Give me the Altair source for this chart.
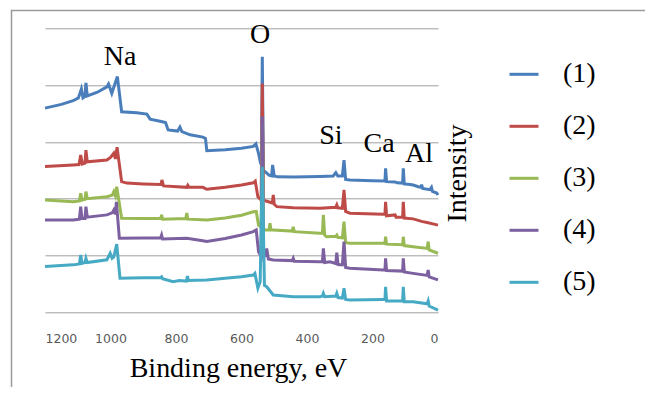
import altair as alt
import pandas as pd

series_names = ["(1)", "(2)", "(3)", "(4)", "(5)"]
colors = ["#4A7EBB", "#BE4B48", "#98B954", "#7D60A0", "#46AAC5"]

# (binding energy eV, intensity offset units)
s1 = [(1200, 7.19), (1150, 7.32), (1114, 7.45), (1098, 7.55), (1089, 7.86), (1084, 7.55),
      (1078, 7.60), (1075, 8.08), (1071, 7.62), (1040, 7.75), (1011, 7.94), (1006, 8.04),
      (996, 7.71), (979, 8.30), (966, 7.06), (920, 7.03), (889, 6.98), (879, 6.80),
      (845, 6.72), (832, 6.68), (824, 6.42), (795, 6.38), (788, 6.52), (782, 6.36),
      (757, 6.25), (718, 6.17), (710, 6.12), (706, 5.69), (650, 5.72), (600, 5.78),
      (564, 5.84), (556, 5.93), (548, 5.60), (542, 5.26), (539, 5.20), (536.5, 9.00),
      (533, 5.00), (523, 4.90), (515, 4.82), (508, 4.80), (505, 5.19), (500, 4.80), (490, 4.77),
      (440, 4.76), (360, 4.78), (320, 4.80), (312, 4.92), (306, 4.80), (292, 4.80),
      (287, 5.36), (282, 4.68), (269, 4.66), (200, 4.63), (162, 4.62), (160, 5.07),
      (157, 4.60), (131, 4.59), (125, 4.56), (108, 4.55), (106, 5.07), (103, 4.52),
      (85, 4.50), (76, 4.48), (60, 4.42), (52, 4.40), (50, 4.50), (47, 4.36), (25, 4.32),
      (20, 4.40), (17, 4.26), (4, 4.20), (0, 4.13)]
s2 = [(1200, 5.13), (1114, 5.19), (1096, 5.20), (1091, 5.54), (1086, 5.22), (1078, 5.25),
      (1075, 5.71), (1071, 5.30), (1011, 5.36), (1000, 5.45), (990, 5.60), (985, 5.40),
      (980, 5.81), (966, 4.60), (950, 4.55), (900, 4.52), (846, 4.50), (843, 4.66),
      (838, 4.45), (767, 4.40), (764, 4.47), (760, 4.40), (718, 4.40), (706, 4.33),
      (650, 4.40), (600, 4.48), (564, 4.56), (558, 4.62), (550, 4.07), (540, 3.95),
      (536.5, 8.06), (533, 3.95), (520, 3.90), (506, 3.85), (503, 4.13), (500, 3.80),
      (492, 3.72), (442, 3.68), (360, 3.66), (312, 3.70), (309, 3.78), (306, 3.68),
      (292, 3.66), (287, 4.31), (282, 3.55), (269, 3.49), (167, 3.45), (162, 3.45),
      (160, 3.89), (157, 3.40), (131, 3.43), (128, 3.35), (108, 3.35), (106, 3.89),
      (103, 3.32), (76, 3.29), (50, 3.20), (30, 3.15), (0, 3.07)]
s3 = [(1200, 3.95), (1114, 3.89), (1095, 3.92), (1091, 4.19), (1087, 3.95), (1078, 3.98),
      (1075, 4.25), (1071, 4.00), (1011, 4.07), (995, 4.12), (990, 4.25), (985, 4.10),
      (981, 4.42), (966, 3.31), (900, 3.30), (847, 3.30), (844, 3.43), (841, 3.28),
      (770, 3.30), (767, 3.50), (764, 3.28), (706, 3.25), (650, 3.32), (600, 3.42),
      (564, 3.54), (555, 3.55), (548, 3.07), (540, 3.00), (536.5, 6.60), (533, 2.95),
      (528, 2.90), (516, 2.90), (513, 3.14), (510, 2.90), (503, 2.90), (445, 2.86),
      (442, 3.01), (439, 2.84), (360, 2.78), (353, 2.78), (350, 3.43), (346, 2.72),
      (340, 2.66), (312, 2.68), (309, 2.72), (306, 2.64), (292, 2.62), (287, 3.19),
      (282, 2.45), (269, 2.43), (167, 2.43), (162, 2.42), (160, 2.66), (157, 2.40),
      (108, 2.38), (106, 2.66), (103, 2.35), (76, 2.31), (33, 2.25), (30, 2.49),
      (27, 2.20), (0, 2.08)]
s4 = [(1200, 3.25), (1114, 3.25), (1095, 3.28), (1091, 3.72), (1087, 3.30), (1078, 3.30),
      (1075, 3.72), (1071, 3.35), (1011, 3.43), (995, 3.50), (990, 3.60), (985, 3.45),
      (982, 3.89), (973, 2.61), (900, 2.62), (847, 2.62), (844, 2.72), (841, 2.58),
      (767, 2.61), (718, 2.52), (706, 2.49), (650, 2.60), (600, 2.72), (564, 2.84),
      (555, 2.90), (548, 2.13), (540, 1.96), (536.5, 6.89), (533, 1.96), (526, 2.00),
      (523, 2.25), (518, 1.88), (503, 1.84), (445, 1.82), (442, 1.90), (439, 1.80),
      (360, 1.78), (353, 1.78), (350, 2.25), (346, 1.75), (330, 1.78), (312, 1.72),
      (309, 2.10), (305, 1.68), (292, 1.67), (287, 2.49), (282, 1.58), (269, 1.55),
      (167, 1.49), (162, 1.49), (160, 1.90), (157, 1.47), (108, 1.45), (106, 1.90),
      (103, 1.42), (76, 1.37), (33, 1.30), (30, 1.49), (27, 1.25), (0, 1.14)]
s5 = [(1200, 1.61), (1114, 1.67), (1095, 1.70), (1091, 2.02), (1087, 1.72), (1078, 1.75),
      (1075, 1.90), (1071, 1.75), (1011, 1.85), (1001, 2.08), (995, 1.90), (990, 1.95),
      (981, 2.40), (971, 1.20), (900, 1.22), (847, 1.22), (844, 1.25), (841, 1.18),
      (809, 1.08), (790, 1.12), (768, 1.10), (765, 1.28), (762, 1.12), (706, 1.14),
      (650, 1.20), (600, 1.25), (564, 1.31), (559, 1.37), (550, 0.85), (543, 1.08),
      (536.5, 5.12), (530, 0.95), (523, 0.90), (503, 0.61), (442, 0.55), (360, 0.55),
      (353, 0.57), (350, 0.67), (346, 0.55), (312, 0.57), (309, 0.67), (305, 0.52),
      (292, 0.50), (287, 0.85), (282, 0.45), (269, 0.43), (167, 0.45), (162, 0.45),
      (160, 0.90), (157, 0.40), (108, 0.40), (106, 0.90), (103, 0.37), (76, 0.37),
      (33, 0.30), (30, 0.40), (27, 0.22), (0, 0.08)]

x_ticks = [0, 200, 400, 600, 800, 1000, 1200]
y_grid = list(range(0, 11))

peak_labels = ["Na", "O", "Si", "Ca", "Al"]
peak_energy = [971, 543, 327, 180, 58]
peak_level = [8.71, 9.47, 5.92, 5.65, 5.30]

rows = []
for name, s in zip(series_names, [s1, s2, s3, s4, s5]):
    for k, (e, v) in enumerate(s):
        rows.append({"series": name, "energy": e, "intensity": v, "idx": k})
df = pd.DataFrame(rows)
lab_df = pd.DataFrame({"label": peak_labels, "energy": peak_energy, "intensity": peak_level})

x_scale = alt.Scale(domain=[0, 1200], reverse=True, nice=False)
y_scale = alt.Scale(domain=[0, 10], nice=False)
XT = "Binding energy, eV"
YT = "Intensity"
SERIF = "Liberation Serif"
FS = 28

lines = alt.Chart(df).mark_line(strokeWidth=3).encode(
    x=alt.X("energy:Q", scale=x_scale, title=XT,
            axis=alt.Axis(values=x_ticks, format="d", grid=False, domain=False, ticks=False,
                          tickSize=0, labelPadding=30.7, labelBaseline="alphabetic",
                          labelFont="DejaVu Sans", labelFontSize=12.5, labelColor="#595959",
                          titleFont=SERIF, titleFontSize=FS, titleFontWeight="normal",
                          titleColor="black", titleX=193, titleY=64.5,
                          titleBaseline="alphabetic", titleAlign="center")),
    y=alt.Y("intensity:Q", scale=y_scale, title=YT,
            axis=alt.Axis(orient="right", values=y_grid, labels=False, ticks=False,
                          domain=False, grid=True, gridColor="#A0A0A0", gridWidth=1,
                          titleFont=SERIF, titleFontSize=FS, titleFontWeight="normal",
                          titleColor="black", titleAngle=270, titleX=19.5, titleY=144.7,
                          titleAlign="center", titleBaseline="middle")),
    color=alt.Color("series:N", title=None,
                    scale=alt.Scale(domain=series_names, range=colors),
                    legend=alt.Legend(orient="none", legendX=463, legendY=30,
                                      symbolType="stroke", symbolSize=841,
                                      symbolStrokeWidth=3, labelFont=SERIF,
                                      labelFontSize=FS, labelColor="black",
                                      labelOffset=23, rowPadding=22, padding=0)),
    order=alt.Order("idx:Q"),
)

texts = alt.Chart(lab_df).mark_text(font=SERIF, fontSize=FS, baseline="alphabetic",
                                    align="center", color="black").encode(
    x=alt.X("energy:Q", scale=x_scale, title=XT),
    y=alt.Y("intensity:Q", scale=y_scale, title=YT),
    text="label:N",
)

frame = alt.Chart(pd.DataFrame({"k": [0]})).mark_rect(
    filled=False, stroke="#9A9A9A", strokeWidth=1.5).encode(
    x=alt.value(-33.5), x2=alt.value(655), y=alt.value(-17.8), y2=alt.value(450))

chart = alt.layer(lines, texts, frame).properties(
    width=393, height=284,
    padding={"left": 37, "top": 20.3, "right": 207, "bottom": 75},
    autosize=alt.AutoSizeParams(type="none"),
).configure_view(strokeWidth=0)

chart.save("out.html", embed_options={"renderer": "svg", "actions": False})
